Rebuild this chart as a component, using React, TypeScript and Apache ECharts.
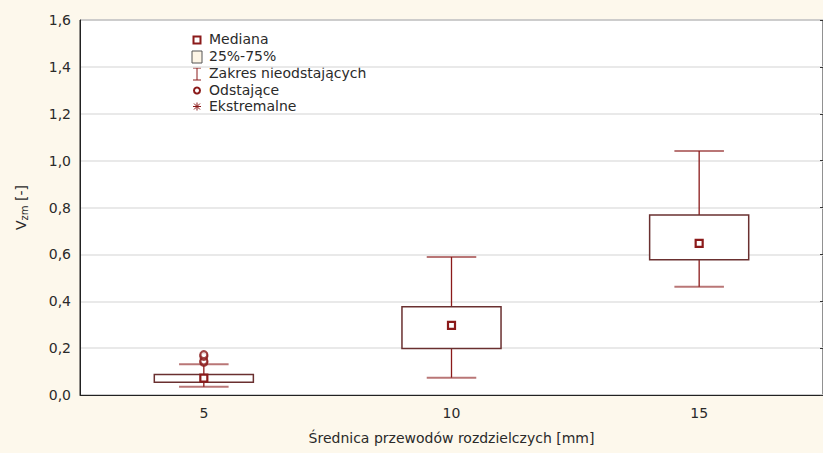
import React, { useEffect, useRef } from "react";
import * as echarts from "echarts";

const categories = ["5", "10", "15"];
const whiskerLow = [0.035, 0.074, 0.462];
const q1 = [0.054, 0.198, 0.577];
const median = [0.072, 0.297, 0.647];
const q3 = [0.087, 0.377, 0.768];
const whiskerHigh = [0.131, 0.589, 1.041];
const outlierCategory = ["5", "5", "5", "5"];
const outlierValues = [0.14, 0.145, 0.165, 0.172];
const legendLabels = ["Mediana", "25%-75%", "Zakres nieodstających", "Odstające", "Ekstremalne"];

const RED = "#8b1a1a";
const FONT = "DejaVu Sans";

export default function App() {
  const ref = useRef<HTMLDivElement>(null);
  useEffect(() => {
    const chart = echarts.init(ref.current!, null, { renderer: "svg" });
    const boxData = categories.map((c, i) => [i, whiskerLow[i], q1[i], median[i], q3[i], whiskerHigh[i]]);
    const lx = 197;
    const ly = [40, 57, 74, 90.5, 106.5];
    const legendGraphics: any[] = [];
    legendLabels.forEach((t, i) => {
      legendGraphics.push({
        type: "text",
        left: 209,
        top: ly[i] - 8,
        style: { text: t, font: `14px "${FONT}"`, fill: "#2a2a2a" },
      });
    });
    legendGraphics.push(
      { type: "rect", shape: { x: lx - 3.5, y: ly[0] - 3.5, width: 7, height: 7 }, style: { fill: "#fff", stroke: RED, lineWidth: 2 } },
      { type: "rect", shape: { x: lx - 5, y: ly[1] - 6, width: 10, height: 12 }, style: { fill: "#fdf5e6", stroke: "#555", lineWidth: 1 } },
      { type: "line", shape: { x1: lx, y1: ly[2] - 6, x2: lx, y2: ly[2] + 6 }, style: { stroke: RED, lineWidth: 1 } },
      { type: "line", shape: { x1: lx - 4, y1: ly[2] - 6, x2: lx + 4, y2: ly[2] - 6 }, style: { stroke: RED, lineWidth: 1 } },
      { type: "line", shape: { x1: lx - 4, y1: ly[2] + 6, x2: lx + 4, y2: ly[2] + 6 }, style: { stroke: RED, lineWidth: 1 } },
      { type: "circle", shape: { cx: lx, cy: ly[3], r: 3 }, style: { fill: "#fff", stroke: RED, lineWidth: 2 } },
      { type: "line", shape: { x1: lx - 4, y1: ly[4], x2: lx + 4, y2: ly[4] }, style: { stroke: RED, lineWidth: 1 } },
      { type: "line", shape: { x1: lx, y1: ly[4] - 4, x2: lx, y2: ly[4] + 4 }, style: { stroke: RED, lineWidth: 1 } },
      { type: "line", shape: { x1: lx - 3, y1: ly[4] - 3, x2: lx + 3, y2: ly[4] + 3 }, style: { stroke: RED, lineWidth: 1 } },
      { type: "line", shape: { x1: lx - 3, y1: ly[4] + 3, x2: lx + 3, y2: ly[4] - 3 }, style: { stroke: RED, lineWidth: 1 } }
    );

    chart.setOption({
      animation: false,
      backgroundColor: "#fdf8ec",
      textStyle: { fontFamily: FONT },
      grid: {
        left: 80,
        right: 0,
        top: 20,
        bottom: 58,
        show: true,
        backgroundColor: "#ffffff",
        borderColor: "#222",
        borderWidth: 1,
      },
      xAxis: {
        type: "category",
        data: categories,
        boundaryGap: true,
        axisLine: { lineStyle: { color: "#222", width: 1 } },
        axisTick: { inside: true, length: 3, alignWithLabel: true, lineStyle: { color: "#333" } },
        axisLabel: { fontSize: 14, color: "#2a2a2a", margin: 11, fontFamily: FONT },
        name: "Średnica przewodów rozdzielczych [mm]",
        nameLocation: "middle",
        nameGap: 36,
        nameTextStyle: { fontSize: 14, color: "#2a2a2a", fontFamily: FONT },
      },
      yAxis: [
        {
          type: "value",
          min: 0,
          max: 1.6,
          interval: 0.2,
          axisLine: { show: true, lineStyle: { color: "#222", width: 1 } },
          axisTick: { show: false },
          splitLine: { lineStyle: { color: "#e2e2e2", width: 1.5 } },
          axisLabel: {
            fontSize: 14,
            color: "#2a2a2a",
            margin: 9,
            fontFamily: FONT,
            formatter: (v: number) => v.toFixed(1).replace(".", ","),
          },
          name: "{v|V}{s|zm}{v| [-]}",
          nameLocation: "middle",
          nameGap: 50,
          nameRotate: 90,
          nameTextStyle: {
            color: "#2a2a2a",
            rich: {
              v: { fontSize: 14, color: "#2a2a2a", fontFamily: FONT, lineHeight: 18 },
              s: { fontSize: 10, color: "#2a2a2a", fontFamily: FONT, lineHeight: 18, padding: [7, 0, 0, 0] },
            },
          },
        },
        {
          type: "value",
          position: "right",
          min: 0,
          max: 1.6,
          interval: 0.2,
          axisLine: { show: false },
          axisTick: { show: true, inside: true, length: 3, lineStyle: { color: "#333" } },
          axisLabel: { show: false },
          splitLine: { show: false },
        },
      ],
      series: [
        {
          type: "custom",
          data: boxData,
          encode: { x: 0, y: [1, 2, 3, 4, 5] },
          z: 3,
          renderItem: (params: any, api: any) => {
            const x = api.value(0);
            const pLow = api.coord([x, api.value(1)]);
            const pQ1 = api.coord([x, api.value(2)]);
            const pMed = api.coord([x, api.value(3)]);
            const pQ3 = api.coord([x, api.value(4)]);
            const pHigh = api.coord([x, api.value(5)]);
            const bw = api.size([1, 0])[0] * 0.4;
            const cw = bw / 2;
            const cx = pMed[0];
            return {
              type: "group",
              children: [
                { type: "line", shape: { x1: cx, y1: pHigh[1], x2: cx, y2: pQ3[1] }, style: { stroke: RED, lineWidth: 1.3 } },
                { type: "line", shape: { x1: cx, y1: pQ1[1], x2: cx, y2: pLow[1] }, style: { stroke: RED, lineWidth: 1.3 } },
                { type: "line", shape: { x1: cx - cw / 2, y1: pHigh[1], x2: cx + cw / 2, y2: pHigh[1] }, style: { stroke: "rgba(139,26,26,0.6)", lineWidth: 2 } },
                { type: "line", shape: { x1: cx - cw / 2, y1: pLow[1], x2: cx + cw / 2, y2: pLow[1] }, style: { stroke: "rgba(139,26,26,0.6)", lineWidth: 2 } },
                { type: "rect", shape: { x: cx - bw / 2, y: pQ3[1], width: bw, height: pQ1[1] - pQ3[1] }, style: { fill: "#fff", stroke: "#6a3030", lineWidth: 1.5 } },
                { type: "rect", shape: { x: cx - 3.5, y: pMed[1] - 3.5, width: 7, height: 7 }, style: { fill: "#fff", stroke: RED, lineWidth: 2.2 } },
              ],
            };
          },
        },
        {
          type: "scatter",
          data: outlierCategory.map((c, i) => [c, outlierValues[i]]),
          symbol: "circle",
          symbolSize: 7,
          z: 4,
          itemStyle: { color: "#fff", borderColor: RED, borderWidth: 2.2 },
        },
      ],
      graphic: legendGraphics,
    });
    return () => chart.dispose();
  }, []);
  return <div ref={ref} style={{ position: "absolute", left: 0, top: 0, width: 823, height: 453 }} />;
}
